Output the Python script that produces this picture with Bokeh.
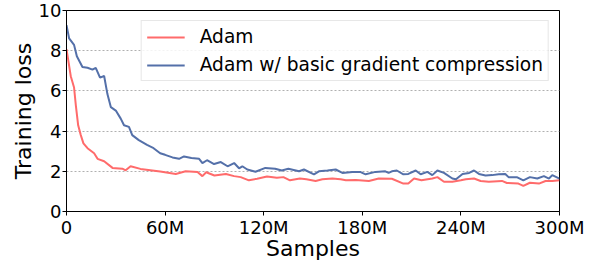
from bokeh.plotting import figure
from bokeh.models import FixedTicker, Range1d
from bokeh.embed import file_html
from bokeh.resources import INLINE

# Samples in millions
adam_x = [0, 2.6, 4.6, 5.7, 7.1, 8.7, 10.3, 12.8, 16.8, 18.9, 22.9, 28, 34, 36, 39, 45, 57,
          66.5, 72.5, 79.7, 82.7, 85, 90, 97, 102, 106, 111, 116, 122, 128, 132, 136, 142,
          146, 151.6, 155.7, 161.8, 166.8, 170, 176, 184, 190, 198, 205, 208, 211.5, 216,
          222.6, 225.7, 229.7, 234.8, 240, 243, 248, 252, 257, 265, 268, 275, 278, 282,
          287.5, 291.5, 295.6, 300]
adam_loss = [8.08, 6.73, 6.17, 5.27, 4.29, 3.80, 3.39, 3.15, 2.90, 2.62, 2.50, 2.17, 2.13, 2.05,
             2.25, 2.12, 1.99, 1.87, 2.00, 1.97, 1.76, 1.95, 1.79, 1.87, 1.76, 1.71, 1.55, 1.63,
             1.74, 1.68, 1.71, 1.55, 1.64, 1.60, 1.52, 1.60, 1.64, 1.60, 1.55, 1.57, 1.52, 1.64,
             1.63, 1.39, 1.39, 1.64, 1.55, 1.64, 1.71, 1.48, 1.48, 1.55, 1.60, 1.64, 1.52, 1.48,
             1.52, 1.42, 1.39, 1.27, 1.43, 1.39, 1.52, 1.52, 1.55]

comp_x = [0, 1.6, 4.6, 6.3, 9.7, 12.8, 15.8, 17.8, 20.4, 22.9, 24.9, 27, 30, 33, 35, 38, 40, 44,
          49, 53, 57, 60, 64.5, 68.5, 71.5, 76, 80.7, 82.7, 85.5, 89.8, 93.9, 98, 102, 105, 107,
          110, 115, 121, 127, 131, 135, 141.5, 144.5, 150.6, 153.6, 158.8, 163.8, 167.9, 174,
          179, 182, 188, 194, 196, 198, 201, 205, 208, 212.5, 215.5, 219.6, 222.6, 225.7,
          229.7, 234.8, 237, 241, 245, 248, 251, 255, 259, 263, 267, 269, 274, 278, 282,
          286.5, 290.5, 293.6, 295.6, 300]
comp_loss = [9.27, 8.61, 8.29, 7.72, 7.19, 7.15, 7.06, 7.15, 6.66, 6.74, 5.84, 5.19, 5.02, 4.62,
             4.29, 4.21, 3.80, 3.55, 3.31, 3.15, 2.90, 2.82, 2.69, 2.62, 2.74, 2.66, 2.62, 2.41,
             2.55, 2.36, 2.46, 2.25, 2.41, 2.15, 2.25, 2.09, 1.98, 2.17, 2.13, 2.04, 2.13, 2.00,
             2.09, 1.85, 2.00, 2.04, 2.09, 1.92, 1.97, 1.96, 1.85, 1.97, 2.00, 1.92, 2.00, 2.04,
             1.85, 1.87, 2.04, 1.85, 1.97, 1.81, 2.04, 1.92, 1.64, 1.60, 1.87, 1.92, 2.04, 1.87,
             1.79, 1.81, 1.85, 1.87, 1.71, 1.71, 1.55, 1.71, 1.64, 1.76, 1.64, 1.81, 1.64]

x_ticks = [0, 60, 120, 180, 240, 300]
x_tick_labels = ["0", "60M", "120M", "180M", "240M", "300M"]
y_ticks = [0, 2, 4, 6, 8, 10]

FONT = "DejaVu Sans"

p = figure(width=590, height=263, output_backend="svg", toolbar_location=None,
           x_range=Range1d(0, 300), y_range=Range1d(0, 10),
           min_border_left=66, min_border_right=31, min_border_top=10, min_border_bottom=20,
           background_fill_color="white", border_fill_color="white")

p.line(adam_x, adam_loss, line_color="#ff6b6b", line_width=2, legend_label="Adam")
p.line(comp_x, comp_loss, line_color="#5470a9", line_width=2,
       legend_label="Adam w/ basic gradient compression")

p.outline_line_color = "black"
p.outline_line_width = 1
p.outline_line_alpha = 1

p.xaxis.ticker = FixedTicker(ticks=x_ticks)
p.xaxis.major_label_overrides = {t: l for t, l in zip(x_ticks, x_tick_labels)}
p.yaxis.ticker = FixedTicker(ticks=y_ticks)

for ax in (p.xaxis, p.yaxis):
    ax.axis_line_color = "black"
    ax.major_tick_line_color = "black"
    ax.major_tick_out = 4
    ax.major_tick_in = 0
    ax.minor_tick_line_color = None
    ax.major_label_text_font = FONT
    ax.major_label_text_font_size = "18px"
    ax.major_label_text_color = "black"
    ax.major_label_standoff = 1
    ax.axis_label_text_font = FONT
    ax.axis_label_text_font_size = "22px"
    ax.axis_label_text_font_style = "normal"
    ax.axis_label_text_color = "black"
    ax.axis_label_standoff = 0

p.xaxis.axis_label_standoff = -5
p.xaxis.axis_label = "Samples"
p.yaxis.axis_label = "Training loss"

p.xgrid.visible = False
p.ygrid.grid_line_color = "#b0b0b0"
p.ygrid.grid_line_dash = "2 2"
p.ygrid.grid_line_width = 1

lg = p.legend[0]
lg.location = "top_right"
lg.margin = 10
lg.padding = 5
lg.spacing = 7
lg.glyph_width = 38
lg.glyph_height = 20
lg.label_height = 20
lg.label_standoff = 15
lg.label_text_font = FONT
lg.label_text_font_size = "18.6px"
lg.label_text_color = "black"
lg.border_line_color = "#d0d0d0"
lg.border_line_width = 1
lg.background_fill_alpha = 0.85

open("out.html", "w").write(file_html(p, INLINE))
